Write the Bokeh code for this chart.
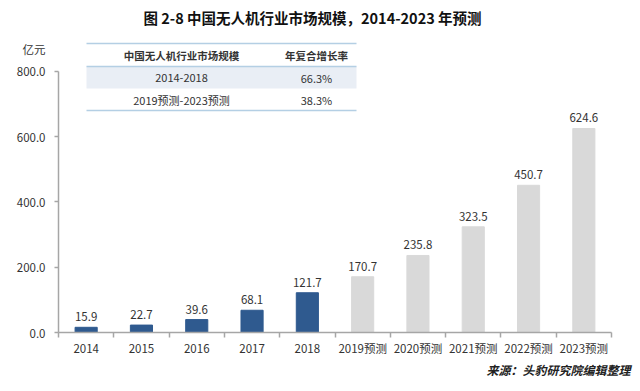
from bokeh.plotting import figure
from bokeh.models import (ColumnDataSource, FixedTicker, Label,
                          BoxAnnotation, Range1d, LinearAxis, Title)
from bokeh.embed import file_html
from bokeh.resources import INLINE
from bokeh.core.properties import value

# ---- data ----
categories = ["2014", "2015", "2016", "2017", "2018",
              "2019预测", "2020预测", "2021预测", "2022预测", "2023预测"]
market_size = [15.9, 22.7, 39.6, 68.1, 121.7, 170.7, 235.8, 323.5, 450.7, 624.6]
n_actual = 5
y_ticks = [0, 200, 400, 600, 800]
table_header = ["中国无人机行业市场规模", "年复合增长率"]
table_periods = ["2014-2018", "2019预测-2023预测"]
table_cagr = ["66.3%", "38.3%"]
title_text = "图 2-8 中国无人机行业市场规模，2014-2023 年预测"
unit_text = "亿元"
source_text = "来源：头豹研究院编辑整理"

# ---- layout / style ----
FONT = "Noto Sans CJK SC"
BLUE = "#2f5a8f"
GREY = "#d9d9d9"
AXIS = "#a6a6a6"
W, H = 640, 391
FRAME_L, FRAME_R, FRAME_B = 58, 611, 332
Y_TOP_PX = 70.7          # pixel row of the top tick
UNIT_PX = 48             # pixel row of the unit text
y_end = y_ticks[-1] * FRAME_B / (FRAME_B - Y_TOP_PX)
unit_pos = y_ticks[-1] * (FRAME_B - UNIT_PX) / (FRAME_B - Y_TOP_PX)

idx = list(range(len(categories)))
labels = [f"{v:.1f}" for v in market_size]
hist = ColumnDataSource(dict(x=idx[:n_actual], top=market_size[:n_actual], lab=labels[:n_actual]))
fore = ColumnDataSource(dict(x=idx[n_actual:], top=market_size[n_actual:], lab=labels[n_actual:]))

p = figure(width=W, height=H, output_backend="svg", toolbar_location=None, title=None,
           x_range=Range1d(-0.5, len(categories) - 0.5), y_range=Range1d(0, y_end),
           min_border_left=FRAME_L, min_border_right=W - FRAME_R, min_border_top=0,
           min_border_bottom=H - FRAME_B)
p.outline_line_color = None
p.xgrid.grid_line_color = None
p.ygrid.grid_line_color = None

p.vbar(x="x", top="top", width=0.4, color=BLUE, source=hist)
p.vbar(x="x", top="top", width=0.4, color=GREY, source=fore)
for src in (hist, fore):
    p.text(x="x", y="top", text="lab", source=src, text_align="center",
           text_baseline="bottom", y_offset=-6, text_font=value(FONT),
           text_font_size="11.5px", text_color="#333333")

# x axis: labels at centres, ticks between categories
xa = p.xaxis[0]
xa.ticker = FixedTicker(ticks=idx, minor_ticks=[i - 0.5 for i in range(len(categories) + 1)])
xa.major_label_overrides = {i: c for i, c in zip(idx, categories)}
xa.major_tick_out = 0
xa.major_tick_in = 0
xa.minor_tick_out = 5
xa.minor_tick_in = 0
xa.minor_tick_line_color = AXIS
xa.minor_tick_line_width = 1.5
xa.axis_line_color = AXIS
xa.axis_line_width = 1.5
xa.major_label_standoff = 2
xa.major_label_text_font = FONT
xa.major_label_text_font_size = "11.5px"
xa.major_label_text_color = "#333333"

# y axis line + ticks (inner axis, blank labels)
ya = p.yaxis[0]
ya.ticker = FixedTicker(ticks=y_ticks, minor_ticks=[])
ya.bounds = (y_ticks[0], y_ticks[-1])
ya.major_label_overrides = {t: " " for t in y_ticks}
ya.major_label_standoff = 0
ya.major_label_text_font_size = "4px"
ya.major_tick_out = 4
ya.major_tick_in = 0
ya.major_tick_line_color = AXIS
ya.major_tick_line_width = 1.5
ya.axis_line_color = AXIS
ya.axis_line_width = 1.5

# y labels + unit (outer axis, no line / ticks)
lab_ticks = y_ticks + [unit_pos]
overrides = {t: f"{t:.1f}" for t in y_ticks}
overrides[unit_pos] = unit_text
yb = LinearAxis(ticker=FixedTicker(ticks=lab_ticks, minor_ticks=[]),
                bounds=(y_ticks[0], unit_pos), major_label_overrides=overrides,
                axis_line_color=None, major_tick_line_color=None, minor_tick_line_color=None,
                major_tick_out=0, major_tick_in=0, minor_tick_out=0, minor_tick_in=0,
                major_label_standoff=5, major_label_text_font=FONT,
                major_label_text_font_size="11.5px", major_label_text_color="#333333")
p.add_layout(yb, "left")

# source note under the x axis
p.add_layout(Title(text=source_text, align="right", offset=-19, standoff=1, text_font=FONT,
                   text_font_size="12px", text_font_style="bold italic",
                   text_color="#222222"), "below")

# title (screen units from frame bottom-left)
p.add_layout(Label(x=254, y=315, x_units="screen", y_units="screen", text=title_text,
                   text_align="center", text_baseline="middle", text_font=FONT,
                   text_font_size="14.5px", text_font_style="bold", text_color="#111111"))

# table
TL, TR = 28, 298
p.add_layout(BoxAnnotation(left=TL, right=TR, bottom=244, top=266, left_units="screen",
                           right_units="screen", bottom_units="screen", top_units="screen",
                           fill_color="#e9eef5", fill_alpha=1, line_color=None, level="underlay"))
for yy in (289, 266, 222):
    p.add_layout(BoxAnnotation(left=TL, right=TR, bottom=yy - 0.75, top=yy + 0.75,
                               left_units="screen", right_units="screen", bottom_units="screen",
                               top_units="screen", fill_color="#b4cfe4", fill_alpha=1,
                               line_color=None))
col_x = [123, 258]
for cx, h in zip(col_x, table_header):
    p.add_layout(Label(x=cx, y=277, x_units="screen", y_units="screen", text=h,
                       text_align="center", text_baseline="middle", text_font=FONT,
                       text_font_size="10.5px", text_font_style="bold", text_color="#333333"))
for ry, per, cagr in zip([255, 233], table_periods, table_cagr):
    p.add_layout(Label(x=col_x[0], y=ry, x_units="screen", y_units="screen", text=per,
                       text_align="center", text_baseline="middle", text_font=FONT,
                       text_font_size="11px", text_color="#333333"))
    p.add_layout(Label(x=col_x[1], y=ry, x_units="screen", y_units="screen", text=cagr,
                       text_align="center", text_baseline="middle", text_font=FONT,
                       text_font_size="11px", text_color="#333333"))

open("out.html", "w").write(file_html(p, INLINE))
